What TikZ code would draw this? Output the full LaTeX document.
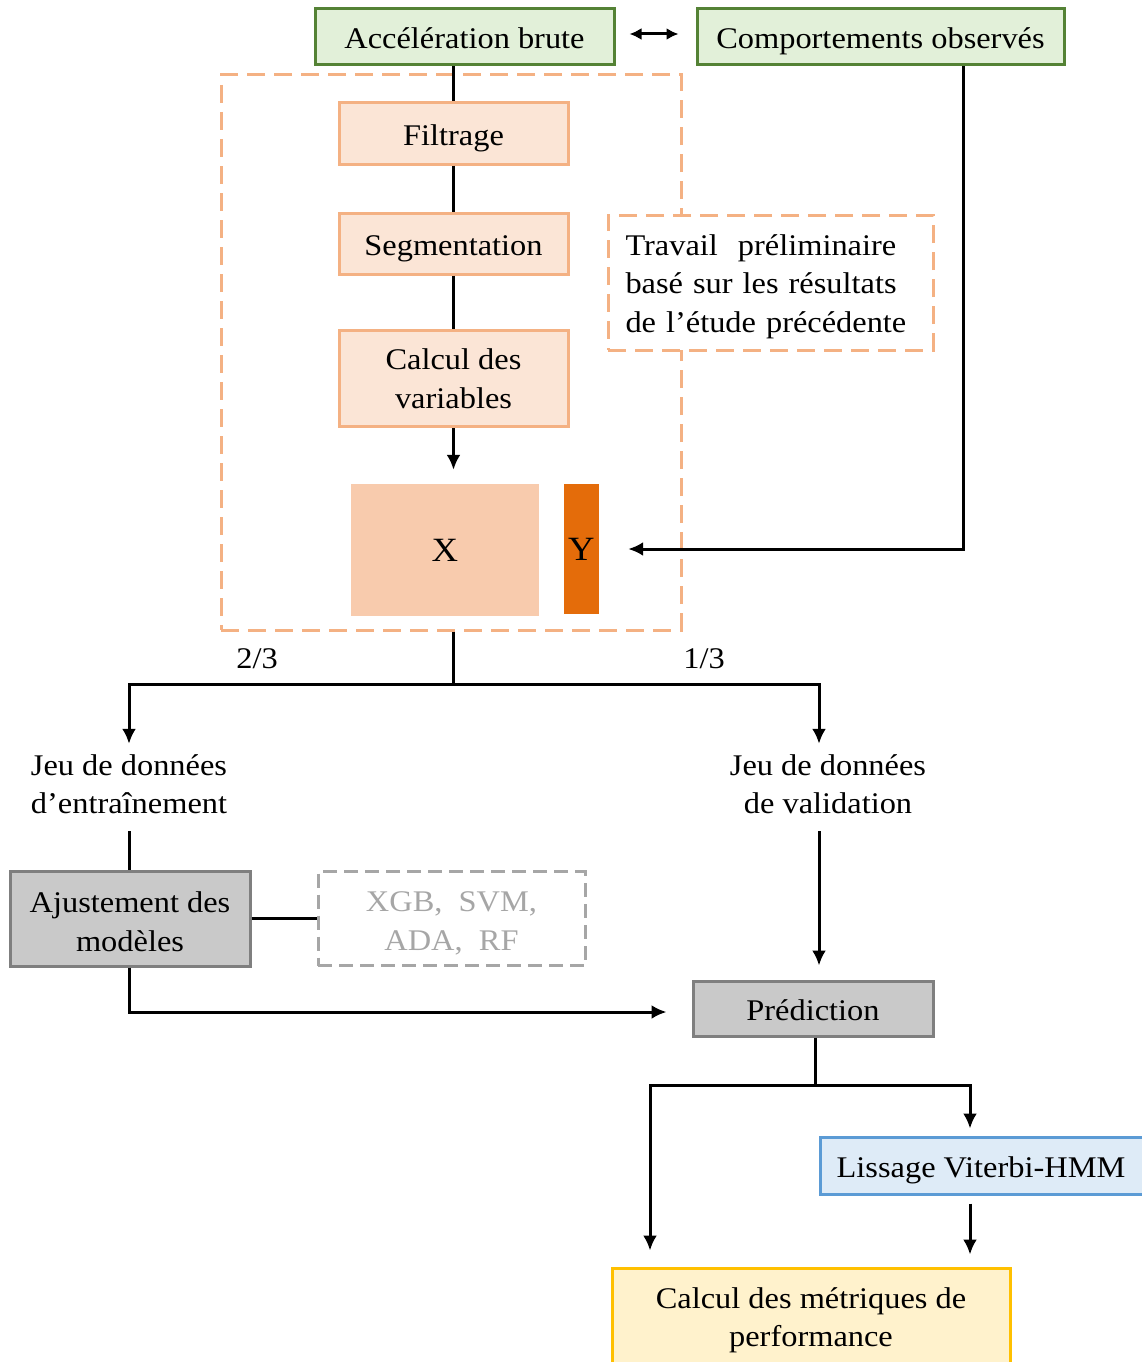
\documentclass[tikz,border=0pt]{standalone}
\usepackage{fontspec}
\setmainfont[FakeStretch=1.08]{Liberation Serif}
\usetikzlibrary{arrows.meta}

\definecolor{greenfill}{HTML}{E2F0D9}
\definecolor{greenline}{HTML}{548235}
\definecolor{peachfill}{HTML}{FBE5D6}
\definecolor{peachline}{HTML}{F4B183}
\definecolor{xfill}{HTML}{F8CBAD}
\definecolor{yfill}{HTML}{E46C0A}
\definecolor{grayfill}{HTML}{C9C9C9}
\definecolor{grayline}{HTML}{7F7F7F}
\definecolor{lightgray}{HTML}{A6A6A6}
\definecolor{bluefill}{HTML}{DEEBF7}
\definecolor{blueline}{HTML}{5B9BD5}
\definecolor{yellowfill}{HTML}{FFF2CC}
\definecolor{yellowline}{HTML}{FFC000}

\begin{document}
\begin{tikzpicture}[x=1pt,y=-1pt,
  every node/.style={font=\fontsize{30}{38.5}\selectfont, inner sep=0pt, align=center},
  oneline/.style={text height=24pt, text depth=0pt},
  link/.style={line width=3pt},
  arr/.style={line width=3pt, -{Latex[length=15pt,width=14pt]}},
  inbox/.style={draw=greenline, fill=greenfill, line width=3pt, oneline},
  stepbox/.style={draw=peachline, fill=peachfill, line width=3pt, minimum width=229pt},
  greybox/.style={draw=grayline, fill=grayfill, line width=3pt},
  peachdash/.style={draw=peachline, line width=3pt, dash pattern=on 18pt off 9pt},
  greydash/.style={draw=lightgray, line width=3pt, dash pattern=on 14pt off 7pt}]
  \useasboundingbox (0,0) rectangle (1141,1362);

  \node[peachdash, minimum width=460pt, minimum height=555pt] (grp) at (451,352.5) {};
  \node[peachdash, fill=white, minimum width=325pt, minimum height=135pt,
        label={[yshift=-4pt, text width=290pt, align=left]center:{Travail~~préliminaire\\basé sur les résultats\\de l’étude précédente}}]
        (prev) at (770.5,282.5) {};

  \node[inbox, minimum width=299pt, minimum height=56pt] (acc) at (464.5,37) {Accélération brute};
  \node[inbox, minimum width=367pt, minimum height=56pt] (obs) at (880.5,37) {Comportements observés};

  \node[stepbox, oneline, minimum height=61pt] (filt) at (453.5,133.5) {Filtrage};
  \node[stepbox, oneline, minimum height=61pt] (seg) at (453.5,243.5) {Segmentation};
  \node[stepbox, minimum height=96pt] (calc) at (453.5,378.5) {Calcul des\\variables};

  \node[fill=xfill, minimum width=188pt, minimum height=132pt,
        font=\fontsize{34}{40}\selectfont] (X) at (445,550) {X};
  \node[fill=yfill, minimum width=35pt, minimum height=130pt,
        font=\fontsize{34}{40}\selectfont] (Y) at (581.5,549) {Y};

  \node (r2) at (257,659) {2/3};
  \node (r1) at (704,659) {1/3};

  \node[minimum height=80pt] (train) at (129,784) {Jeu de données\\d’entraînement};
  \node[minimum height=80pt] (valid) at (828,784) {Jeu de données\\de validation};

  \node[greybox, minimum width=240pt, minimum height=95pt,
        label={[yshift=-3pt]center:{Ajustement des\\modèles}}] (fit) at (130,918.5) {};
  \node[greydash, minimum width=267pt, minimum height=94pt,
        label={[yshift=-5pt, text=lightgray]center:{XGB,~~SVM,\\ADA,~~RF}}] (algos) at (451.5,918.5) {};
  \node[greybox, oneline, minimum width=240pt, minimum height=55pt] (pred) at (813,1008.5) {Prédiction};

  \node[draw=blueline, fill=bluefill, line width=3pt, oneline, minimum width=325pt, minimum height=57pt]
        (smooth) at (982.5,1165.5) {\hspace*{-3pt}Lissage Viterbi-HMM};
  \node[draw=yellowline, fill=yellowfill, line width=3pt, minimum width=398pt, minimum height=100pt,
        label={[yshift=-2pt]center:{Calcul des métriques de\\performance}}] (perf) at (811,1318) {};

  \coordinate (split) at (453,684);
  \coordinate (split2) at (815,1085);

  \draw[line width=3pt, {Latex[length=12pt,width=12pt]}-{Latex[length=12pt,width=12pt]},
        shorten <=14pt, shorten >=17pt] ([yshift=3pt]acc.east) -- ([yshift=3pt]obs.west);
  \draw[link] (acc.south -| filt.north) -- (filt.north);
  \draw[link] (filt) -- (seg);
  \draw[link] (seg) -- (calc);
  \draw[arr, shorten >=14pt] (calc.south) -- ([xshift=8.5pt]X.north);
  \draw[arr] ([xshift=82.5pt]obs.south) |- ([xshift=29pt]Y.east);

  \draw[link] (grp.south -| split) -- (split);
  \draw[arr] (split) -| ([xshift=0pt]train.north);
  \draw[arr] (split) -| ([xshift=-9pt]valid.north);

  \draw[link, shorten <=7pt] (train.south) -- (train.south |- fit.north);
  \draw[link] (fit.east) -- (algos.west);
  \draw[arr] ([xshift=-1pt]fit.south) |- ([xshift=-25pt,yshift=-3.5pt]pred.west);
  \draw[arr, shorten <=7pt, shorten >=14pt] ([xshift=-9pt]valid.south) -- ([xshift=-9pt]valid.south |- pred.north);

  \draw[link] (pred.south -| split2) -- (split2);
  \draw[arr, shorten >=7pt] (split2) -| ([xshift=-12.5pt]smooth.north);
  \draw[arr, shorten >=16pt] (split2) -| ([xshift=-161pt]perf.north);
  \draw[arr, shorten <=8pt, shorten >=12pt] ([xshift=-12.5pt]smooth.south) -- ([xshift=-12.5pt]smooth.south |- perf.north);
\end{tikzpicture}
\end{document}
